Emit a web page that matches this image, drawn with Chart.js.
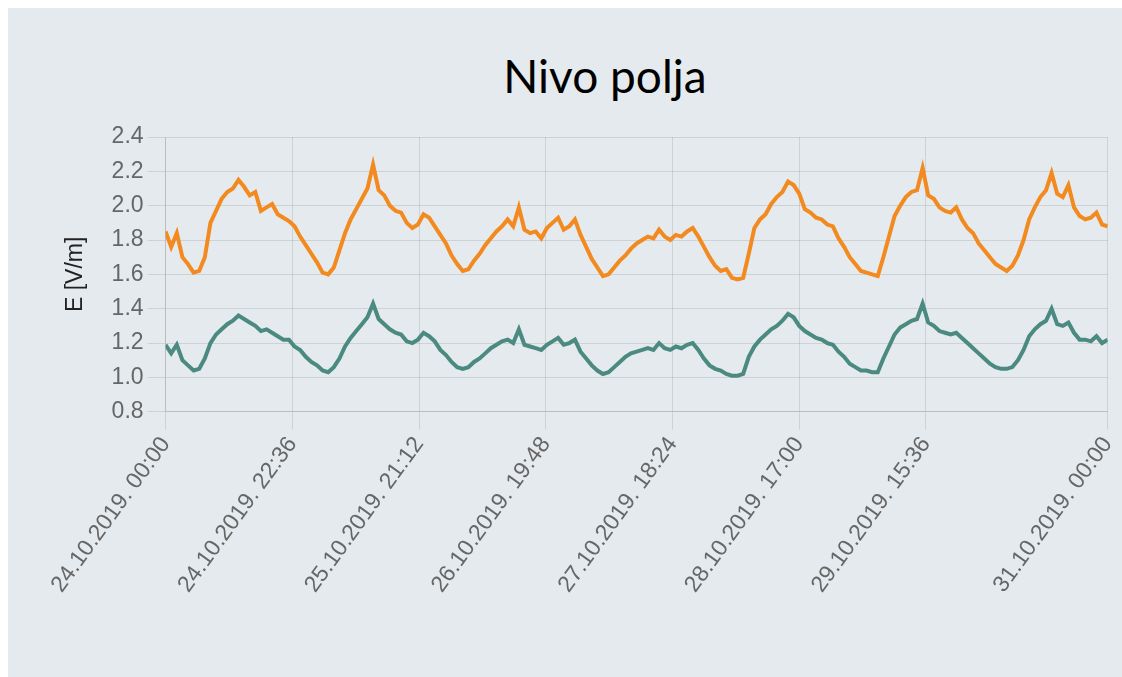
<!DOCTYPE html>
<html>
<head>
<meta charset="utf-8">
<script src="https://cdn.jsdelivr.net/npm/chart.js@4.4.1/dist/chart.umd.min.js"></script>
<style>
  html, body { margin: 0; padding: 0; background: #fff; overflow: hidden; }
  .panel { position: absolute; left: 8px; top: 8px; width: 1114px; height: 669px; background: #e5eaee; overflow: hidden; }
  .title { position: absolute; left: 297px; top: 45px; width: 600px; text-align: center;
           font-family: Lato, "Open Sans", sans-serif; font-size: 46px; line-height: 46px; color: #000; }
  #chart { position: absolute; left: 0; top: 92px; }
</style>
</head>
<body>
<div class="panel">
  <div class="title">Nivo polja</div>
  <canvas id="chart" width="1124" height="520"></canvas>
</div>
<script>
// hourly samples, 24.10.2019 00:00 -> 31.10.2019 00:00
const orange = [
  1.85, 1.76, 1.84, 1.70, 1.66, 1.61, 1.62, 1.70, 1.90, 1.97,
  2.04, 2.08, 2.10, 2.15, 2.11, 2.06, 2.08, 1.97, 1.99, 2.01,
  1.95, 1.93, 1.91, 1.88, 1.82, 1.77, 1.72, 1.67, 1.61, 1.60,
  1.64, 1.74, 1.84, 1.92, 1.98, 2.04, 2.10, 2.24, 2.09, 2.06,
  2.00, 1.97, 1.96, 1.90, 1.87, 1.89, 1.95, 1.93, 1.88, 1.83,
  1.78, 1.71, 1.66, 1.62, 1.63, 1.68, 1.72, 1.77, 1.81, 1.85,
  1.88, 1.92, 1.88, 1.99, 1.86, 1.84, 1.85, 1.81, 1.87, 1.90,
  1.93, 1.86, 1.88, 1.92, 1.83, 1.76, 1.69, 1.64, 1.59, 1.60,
  1.64, 1.68, 1.71, 1.75, 1.78, 1.80, 1.82, 1.81, 1.86, 1.82,
  1.80, 1.83, 1.82, 1.85, 1.87, 1.82, 1.76, 1.70, 1.65, 1.62,
  1.63, 1.58, 1.57, 1.58, 1.72, 1.87, 1.92, 1.95, 2.01, 2.05,
  2.08, 2.14, 2.12, 2.07, 1.98, 1.96, 1.93, 1.92, 1.89, 1.88,
  1.81, 1.76, 1.70, 1.66, 1.62, 1.61, 1.60, 1.59, 1.70, 1.82,
  1.94, 2.00, 2.05, 2.08, 2.09, 2.22, 2.06, 2.04, 1.99, 1.97,
  1.96, 1.99, 1.92, 1.87, 1.84, 1.78, 1.74, 1.70, 1.66, 1.64,
  1.62, 1.65, 1.71, 1.80, 1.92, 1.99, 2.05, 2.09, 2.19, 2.07,
  2.05, 2.12, 1.99, 1.94, 1.92, 1.93, 1.96, 1.89, 1.88
];
const teal = [
  1.19, 1.14, 1.19, 1.10, 1.07, 1.04, 1.05, 1.11, 1.20, 1.25,
  1.28, 1.31, 1.33, 1.36, 1.34, 1.32, 1.30, 1.27, 1.28, 1.26,
  1.24, 1.22, 1.22, 1.18, 1.16, 1.12, 1.09, 1.07, 1.04, 1.03,
  1.06, 1.11, 1.18, 1.23, 1.27, 1.31, 1.35, 1.43, 1.34, 1.31,
  1.28, 1.26, 1.25, 1.21, 1.20, 1.22, 1.26, 1.24, 1.21, 1.16,
  1.13, 1.09, 1.06, 1.05, 1.06, 1.09, 1.11, 1.14, 1.17, 1.19,
  1.21, 1.22, 1.20, 1.28, 1.19, 1.18, 1.17, 1.16, 1.19, 1.21,
  1.23, 1.19, 1.20, 1.22, 1.15, 1.11, 1.07, 1.04, 1.02, 1.03,
  1.06, 1.09, 1.12, 1.14, 1.15, 1.16, 1.17, 1.16, 1.20, 1.17,
  1.16, 1.18, 1.17, 1.19, 1.20, 1.16, 1.11, 1.07, 1.05, 1.04,
  1.02, 1.01, 1.01, 1.02, 1.12, 1.18, 1.22, 1.25, 1.28, 1.30,
  1.33, 1.37, 1.35, 1.30, 1.27, 1.25, 1.23, 1.22, 1.20, 1.19,
  1.15, 1.12, 1.08, 1.06, 1.04, 1.04, 1.03, 1.03, 1.11, 1.18,
  1.25, 1.29, 1.31, 1.33, 1.34, 1.43, 1.32, 1.30, 1.27, 1.26,
  1.25, 1.26, 1.23, 1.20, 1.17, 1.14, 1.11, 1.08, 1.06, 1.05,
  1.05, 1.06, 1.10, 1.16, 1.24, 1.28, 1.31, 1.33, 1.40, 1.31,
  1.30, 1.32, 1.26, 1.22, 1.22, 1.21, 1.24, 1.20, 1.22
];
// x tick positions (hours from start) and their labels
const tickHours = [0, 22.6, 45.2, 67.8, 90.4, 113, 135.6, 168];
const tickLabels = [
  '24.10.2019. 00:00', '24.10.2019. 22:36', '25.10.2019. 21:12', '26.10.2019. 19:48',
  '27.10.2019. 18:24', '28.10.2019. 17:00', '29.10.2019. 15:36', '31.10.2019. 00:00'
];

const font = { family: '"Liberation Sans", Arial, sans-serif', size: 23 };

new Chart(document.getElementById('chart').getContext('2d'), {
  type: 'line',
  data: {
    datasets: [
      {
        data: orange.map((v, i) => ({ x: i, y: v })),
        borderColor: '#f28a1f',
        borderWidth: 4
      },
      {
        data: teal.map((v, i) => ({ x: i, y: v })),
        borderColor: '#4b8a80',
        borderWidth: 4
      }
    ]
  },
  options: {
    responsive: false,
    animation: false,
    layout: { padding: { left: 54, top: 37, right: 0, bottom: 20 } },
    elements: { point: { radius: 0 }, line: { tension: 0 } },
    plugins: { legend: { display: false }, tooltip: { enabled: false } },
    scales: {
      x: {
        type: 'linear',
        min: 0,
        max: 168,
        afterBuildTicks: (scale) => { scale.ticks = tickHours.map(v => ({ value: v })); },
        grid: { color: 'rgba(0,0,0,0.1)', tickLength: 18 },
        ticks: {
          autoSkip: false,
          minRotation: 54,
          maxRotation: 54,
          padding: 2,
          color: '#666',
          font: font,
          callback: (v, i) => tickLabels[i]
        }
      },
      y: {
        min: 0.8,
        max: 2.4,
        grid: { color: 'rgba(0,0,0,0.1)', tickLength: 18 },
        ticks: {
          stepSize: 0.2,
          padding: 4,
          color: '#666',
          font: font,
          callback: (v) => v.toFixed(1)
        },
        title: {
          display: true,
          text: 'E [V/m]',
          color: '#222',
          font: font,
          padding: { top: 0, bottom: 18 }
        }
      }
    }
  }
});
</script>
</body>
</html>
